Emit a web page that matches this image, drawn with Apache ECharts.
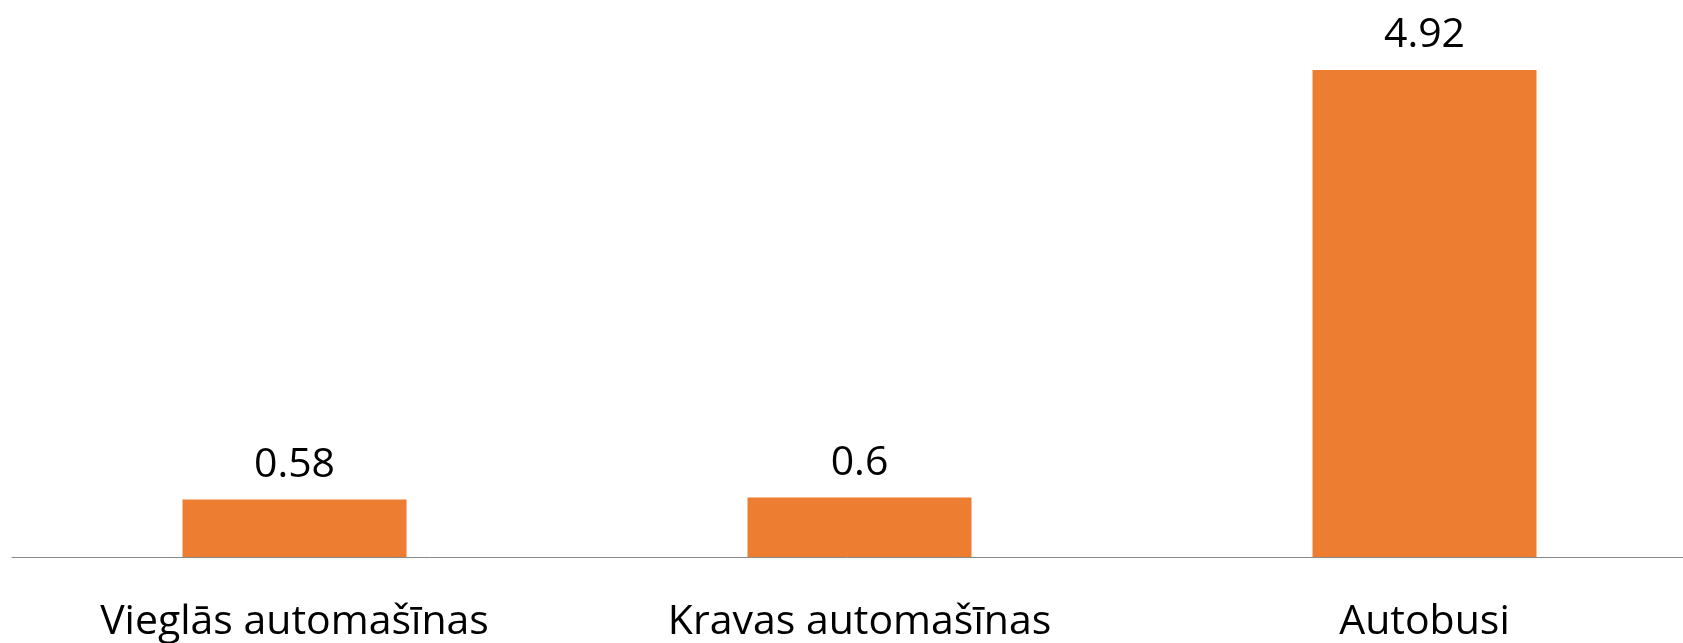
<!DOCTYPE html>
<html>
<head>
<meta charset="utf-8">
<script src="https://cdn.jsdelivr.net/npm/echarts@6/dist/echarts.min.js"></script>
<style>
  html, body { margin: 0; padding: 0; background: #fff; }
  #chart { width: 1683px; height: 643px; }
</style>
</head>
<body>
<div id="chart"></div>
<script>
  const categories = ['Vieglās automašīnas', 'Kravas automašīnas', 'Autobusi'];
  const values = [0.58, 0.6, 4.92];

  const chart = echarts.init(document.getElementById('chart'));
  const option = {
    animation: false,
    grid: {
      left: 12,
      right: -24,
      top: 62,
      bottom: 86,
      outerBoundsMode: 'none',
    },
    xAxis: {
      type: 'category',
      data: categories,
      axisLine: { show: true, lineStyle: { color: '#898989', width: 1 } },
      axisTick: { show: false },
      axisLabel: {
        color: '#000',
        fontFamily: 'Open Sans',
        fontSize: 41,
        margin: 45,
        interval: 0,
      },
    },
    yAxis: {
      type: 'value',
      min: 0,
      max: 5,
      show: false,
      splitLine: { show: false },
    },
    series: [
      {
        type: 'bar',
        data: values,
        barWidth: 224,
        itemStyle: { color: '#ED7D31' },
        label: {
          show: true,
          position: 'top',
          distance: 14,
          color: '#000',
          fontFamily: 'Open Sans',
          fontSize: 41,
        },
      },
    ],
  };
  chart.setOption(option);
</script>
</body>
</html>
